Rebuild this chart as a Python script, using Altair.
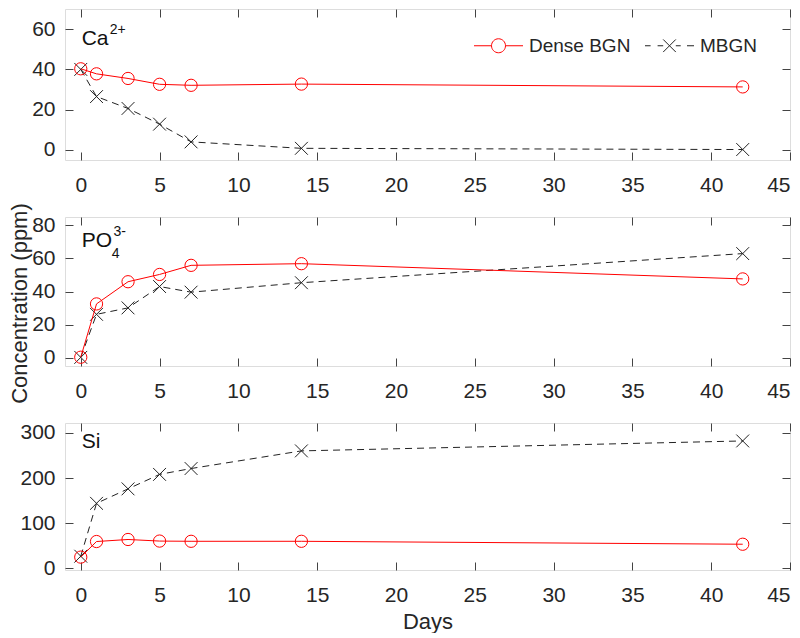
import altair as alt
import pandas as pd

# ---------------- data ----------------
days = [0, 1, 3, 5, 7, 14, 42]
series_names = ["Dense BGN", "MBGN"]

ca_dense = [40.3, 37.8, 35.5, 32.6, 32.1, 32.7, 31.3]
ca_mbgn = [40.0, 26.5, 20.6, 12.8, 4.0, 0.8, 0.2]

po4_dense = [0.3, 32.5, 45.9, 50.3, 55.8, 56.8, 47.6]
po4_mbgn = [0.2, 26.2, 30.1, 43.0, 39.6, 45.3, 62.9]

si_dense = [25.0, 59.5, 64.0, 60.5, 60.0, 60.0, 53.5]
si_mbgn = [27.0, 144.0, 176.0, 208.0, 221.0, 260.0, 282.0]

x_ticks = [0, 5, 10, 15, 20, 25, 30, 35, 40, 45]
ca_ticks = [0, 20, 40, 60]
po4_ticks = [0, 20, 40, 60, 80]
si_ticks = [0, 100, 200, 300]

# panel label pieces: text, day position, value position, font size
ca_label = {"t": ["Ca", "2+"], "x": [0.06, 1.84], "y": [51.9, 57.5], "fs": [21, 14]}
po4_label = {"t": ["PO", "4", "3-"], "x": [0.06, 1.96, 2.07], "y": [66.7, 60.5, 73.6], "fs": [21, 14, 14]}
si_label = {"t": ["Si"], "x": [0.06], "y": [265.3], "fs": [21]}

RED = "#ff0000"
BLACK = "#222222"
FRAME = "#444444"
TXT = "#262626"
FONT = "Liberation Sans"

X_PATH = "M-1,-1L1,1M-1,1L1,-1"
LEG_DENSE = "M-3.5,0L-1,0M1,0A1,1,0,1,1,-1,0A1,1,0,1,1,1,0M1,0L3.5,0"
LEG_MBGN = ("M-3.5,0L-2.7,0M-1.7,0L-0.9,0M-0.9,-0.9L0.9,0.9M-0.9,0.9L0.9,-0.9"
            "M0.9,0L1.6,0M2.5,0L3.5,0")

W = 725
TICK = {"expr": "-8"}


def panel(dense, mbgn, ydom, yticks, height, lab, x_title=None, y_title=None,
          legend=False):
    df = pd.DataFrame({
        "day": days + days,
        "value": dense + mbgn,
        "series": [series_names[0]] * len(days) + [series_names[1]] * len(days),
    })
    xs = alt.Scale(domain=[-1, 45], nice=False, zero=False)
    ys = alt.Scale(domain=ydom, nice=False, zero=False)

    ax_bottom = alt.Axis(values=x_ticks, tickSize=TICK, labelPadding=22,
                         domain=False, grid=False, tickColor=FRAME,
                         labelFontSize=21, labelColor=TXT, labelFont=FONT,
                         title=x_title if x_title else None,
                         titleFontSize=22, titleFontWeight="normal",
                         titleColor=TXT, titleFont=FONT, titlePadding=6)
    ax_left_kw = dict(values=yticks, tickSize=TICK, labelPadding=18,
                      domain=False, grid=False, tickColor=FRAME,
                      labelFontSize=21, labelColor=TXT, labelFont=FONT,
                      titleFontSize=22, titleFontWeight="normal",
                      titleColor=TXT, titleFont=FONT, titlePadding=0)
    if y_title:
        ax_left = alt.Axis(title=y_title, titleY=86, **ax_left_kw)
    else:
        ax_left = alt.Axis(title=None, **ax_left_kw)
    ax_top = alt.Axis(orient="top", values=x_ticks, tickSize=TICK, labels=False,
                      domain=False, grid=False, tickColor=FRAME, title=None)
    ax_right = alt.Axis(orient="right", values=yticks, tickSize=TICK,
                        labels=False, domain=False, grid=False,
                        tickColor=FRAME, title=None)

    base = alt.Chart(df)
    dense_src = base.transform_filter(alt.datum.series == series_names[0])
    mbgn_src = base.transform_filter(alt.datum.series == series_names[1])

    mbgn_line = mbgn_src.mark_line(color=BLACK, strokeWidth=1,
                                   strokeDash=[7, 5]).encode(
        x=alt.X("day:Q", scale=xs, axis=ax_top),
        y=alt.Y("value:Q", scale=ys, axis=ax_right),
    )
    mbgn_pts = mbgn_src.mark_point(shape=X_PATH, size=165, filled=False,
                                   stroke=BLACK, strokeWidth=1,
                                   opacity=1).encode(
        x=alt.X("day:Q", scale=xs, axis=None),
        y=alt.Y("value:Q", scale=ys, axis=None),
    )
    dense_line = dense_src.mark_line(color=RED, strokeWidth=1).encode(
        x=alt.X("day:Q", scale=xs, axis=ax_bottom),
        y=alt.Y("value:Q", scale=ys, axis=ax_left),
    )
    dense_pts = dense_src.mark_point(shape="circle", size=150, filled=False,
                                     stroke=RED, strokeWidth=1,
                                     opacity=1).encode(
        x=alt.X("day:Q", scale=xs, axis=None),
        y=alt.Y("value:Q", scale=ys, axis=None),
    )
    text = alt.Chart(pd.DataFrame(lab)).mark_text(
        align="left", baseline="alphabetic", color="#111111", font=FONT
    ).encode(
        x=alt.X("x:Q", scale=xs, axis=None),
        y=alt.Y("y:Q", scale=ys, axis=None),
        text="t:N",
        size=alt.Size("fs:Q", scale=None, legend=None),
    )
    layers = [mbgn_line, mbgn_pts, dense_line, dense_pts, text]

    if legend:
        leg = dict(orient="none", legendX=424, legendY=27, direction="horizontal",
                   title=None, symbolSize=196, symbolOpacity=1,
                   symbolStrokeWidth=1, symbolFillColor="transparent",
                   labelFontSize=19, labelFont=FONT, labelColor=TXT,
                   labelOffset=21, columnPadding=12, padding=0)
        leg_layer = alt.Chart(pd.DataFrame({"series": series_names})).mark_point(
            filled=False, opacity=0
        ).encode(
            color=alt.Color("series:N",
                            scale=alt.Scale(domain=series_names, range=[RED, BLACK]),
                            legend=alt.Legend(**leg)),
            shape=alt.Shape("series:N",
                            scale=alt.Scale(domain=series_names,
                                            range=[LEG_DENSE, LEG_MBGN]),
                            legend=alt.Legend(**leg)),
        )
        layers.append(leg_layer)

    return alt.layer(*layers).resolve_axis(x="independent", y="independent") \
        .properties(width=W, height=height)


p1 = panel(ca_dense, ca_mbgn, [-5, 70], ca_ticks, 151, ca_label, legend=True)
p2 = panel(po4_dense, po4_mbgn, [-5, 85], po4_ticks, 149, po4_label,
           y_title="Concentration (ppm)")
p3 = panel(si_dense, si_mbgn, [-3.5, 321.7], si_ticks, 147, si_label,
           x_title="Days")

chart = alt.vconcat(p1, p2, p3, spacing=57, bounds="flush", padding=0) \
    .configure_view(stroke=FRAME, strokeWidth=1) \
    .configure(background="white")

chart.save("out.html", embed_options={"renderer": "svg", "actions": False})
